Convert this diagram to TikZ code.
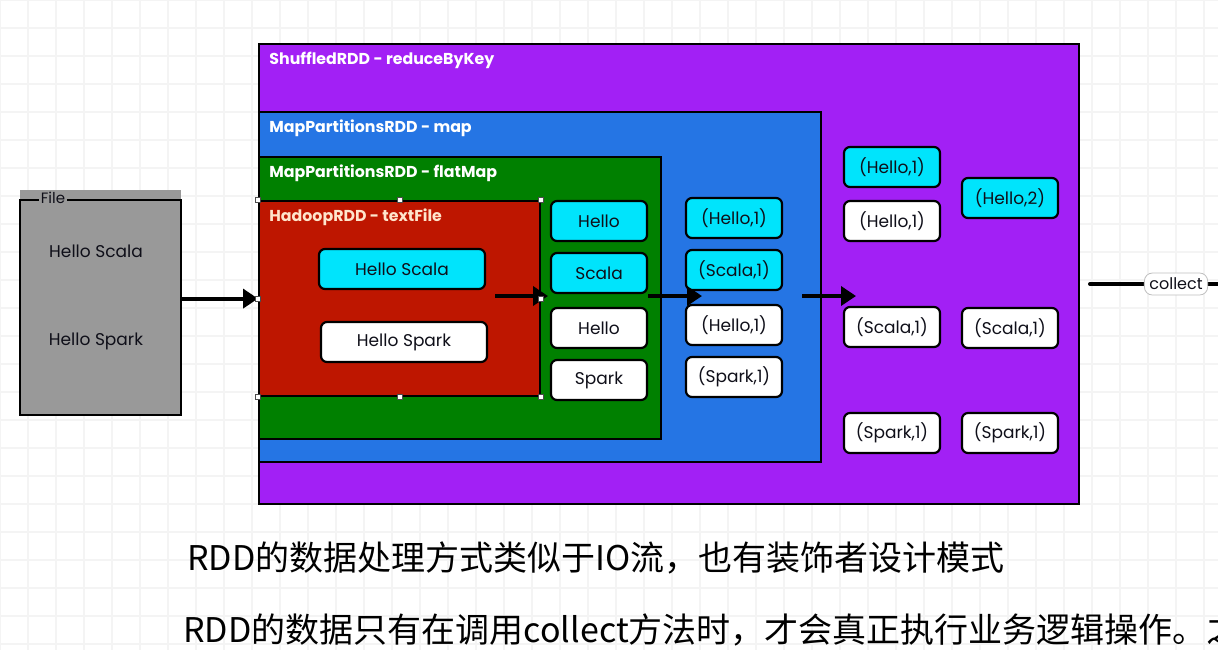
\documentclass[tikz,border=0pt]{standalone}
\usepackage{fontspec}
\setsansfont{Poppins}
\newfontfamily\cjk{Noto Sans CJK SC}
\usepackage{xcolor}
\usepackage{tikz}
\usetikzlibrary{positioning,arrows.meta}
\definecolor{rddpurple}{RGB}{162,32,245}
\definecolor{rddblue}{RGB}{37,117,228}
\definecolor{rddgreen}{RGB}{0,128,0}
\definecolor{rddred}{RGB}{190,22,0}
\definecolor{filegray}{RGB}{153,153,153}
\definecolor{partcyan}{RGB}{0,228,252}
\definecolor{gridgray}{RGB}{244,244,244}
\definecolor{inktext}{RGB}{15,15,25}
\tikzset{
  rddbox/.style   = {rectangle, anchor=north west, draw=black, line width=1.1pt,
                     inner sep=0pt},
  rddtitle/.style = {anchor=west, inner sep=0pt, text=white,
                     font=\sffamily\bfseries\fontsize{7.9}{9}\selectfont},
  cyanpart/.style = {rectangle, rounded corners=3pt, draw=black, line width=1.1pt,
                     fill=partcyan, minimum width=48pt, minimum height=20pt,
                     text=inktext, font=\sffamily\fontsize{8.5}{10}\selectfont},
  whitepart/.style= {cyanpart, fill=white},
  flowarrow/.style= {-{Triangle[length=7.5pt,width=9.5pt]}, line width=2pt, black},
  handle/.style   = {rectangle, draw=black!70, fill=white, line width=0.3pt,
                     minimum size=2.5pt, inner sep=0pt},
  filetext/.style = {text=inktext, font=\sffamily\fontsize{8.5}{10}\selectfont},
  notetext/.style = {anchor=west, inner sep=0pt, text=black,
                     font=\cjk\fontsize{17}{20}\selectfont}
}

\begin{document}
\begin{tikzpicture}[x=0.5pt, y=-0.5pt]
  \useasboundingbox (0,0) rectangle (1218,650);
  % Background grid
  \draw[gridgray, line width=0.6pt, step=14pt] (0,650) grid (1218,0);
  % File
  \node[rectangle, anchor=north west, fill=filegray, minimum width=80.5pt,
        minimum height=112.5pt, inner sep=0pt] (file) at (20,190) {};
  \draw[line width=1.3pt] (20,200) rectangle (181,415);
  \node[fill=filegray, inner sep=1pt, text=inktext,
        font=\sffamily\fontsize{7.5}{9}\selectfont] (filelbl) at (53,198) {File};
  \node[filetext] (fscala) at (96,251) {Hello Scala};
  \node[filetext] (fspark) at (96,341) {Hello Spark};
  % RDD containers
  \node[rddbox, fill=rddpurple, minimum width=410pt, minimum height=230pt] (shuffled) at (258,43) {};
  \node[rddbox, fill=rddblue,   minimum width=281pt, minimum height=175pt] (mapped)   at (258,111) {};
  \node[rddbox, fill=rddgreen,  minimum width=201pt, minimum height=141pt] (flat)     at (258,156) {};
  \node[rddbox, fill=rddred,    minimum width=140.5pt, minimum height=97.5pt] (hadoop) at (258,200) {};
  \node[rddtitle] (tshuffled) at (269,60)  {ShuffledRDD - reduceByKey};
  \node[rddtitle] (tmapped)   at (269,128) {MapPartitionsRDD - map};
  \node[rddtitle] (tflat)     at (269,173) {MapPartitionsRDD - flatMap};
  \node[rddtitle, text=white!80!orange] (thadoop) at (269,217) {HadoopRDD - textFile};
  % Lines read from the file
  \node[cyanpart,  minimum width=83pt] (hsc) at (402,269) {Hello Scala};
  \node[whitepart, minimum width=83pt] (hsp) at (404,342) {Hello Spark};
  % flatMap
  \node[cyanpart]  (w1) at (599,221) {Hello};
  \node[cyanpart]  (w2) at (599,273) {Scala};
  \node[whitepart] (w3) at (599,328) {Hello};
  \node[whitepart] (w4) at (599,380) {Spark};
  % map
  \node[cyanpart]  (m1) at (734,218) {(Hello,1)};
  \node[cyanpart]  (m2) at (734,270) {(Scala,1)};
  \node[whitepart] (m3) at (734,325) {(Hello,1)};
  \node[whitepart] (m4) at (734,377) {(Spark,1)};
  % reduceByKey: grouped, then reduced
  \node[cyanpart]  (g1) at (892,167) {(Hello,1)};
  \node[whitepart] (g2) at (892,221) {(Hello,1)};
  \node[whitepart] (g3) at (892,327) {(Scala,1)};
  \node[whitepart] (g4) at (892,433) {(Spark,1)};
  \node[cyanpart]  (k1) at (1010,198) {(Hello,2)};
  \node[whitepart] (k2) at (1010,328) {(Scala,1)};
  \node[whitepart] (k3) at (1010,433) {(Spark,1)};
  % Arrows
  \coordinate (a1s) at (495,296); \coordinate (a1e) at (548,296);
  \coordinate (a2e) at (702,296);
  \coordinate (a3s) at (802,296); \coordinate (a3e) at (856,296);
  \draw[flowarrow] (file.east |- hadoop.west) -- (hadoop.west);
  \draw[flowarrow] (a1s) -- (a1e);
  \draw[flowarrow] (w2.east |- a1s) -- (a2e);
  \draw[flowarrow] (a3s) -- (a3e);
  % Selection handles
  \node[handle] (h1) at (hadoop.north west) {}; \node[handle] (h2) at (hadoop.north) {};
  \node[handle] (h3) at (hadoop.north east) {}; \node[handle] (h4) at (hadoop.west) {};
  \node[handle] (h5) at (hadoop.east) {};       \node[handle] (h6) at (hadoop.south west) {};
  \node[handle] (h7) at (hadoop.south) {};      \node[handle] (h8) at (hadoop.south east) {};
  % collect
  \coordinate (cs) at (1090,284); \coordinate (ce) at (1240,284);
  \draw[line width=2pt, line cap=round] (cs) -- (ce);
  \node[rectangle, rounded corners=4pt, draw=black!25, fill=white, inner sep=2.5pt,
        text=inktext, font=\sffamily\fontsize{8}{9}\selectfont] (collect) at (1176,284) {collect};
  % Notes
  \node[notetext] (note1) at (187,558) {RDD的数据处理方式类似于IO流，也有装饰者设计模式};
  \node[notetext] (note2) at (183,630) {RDD的数据只有在调用collect方法时，才会真正执行业务逻辑操作。之};
\end{tikzpicture}
\end{document}
